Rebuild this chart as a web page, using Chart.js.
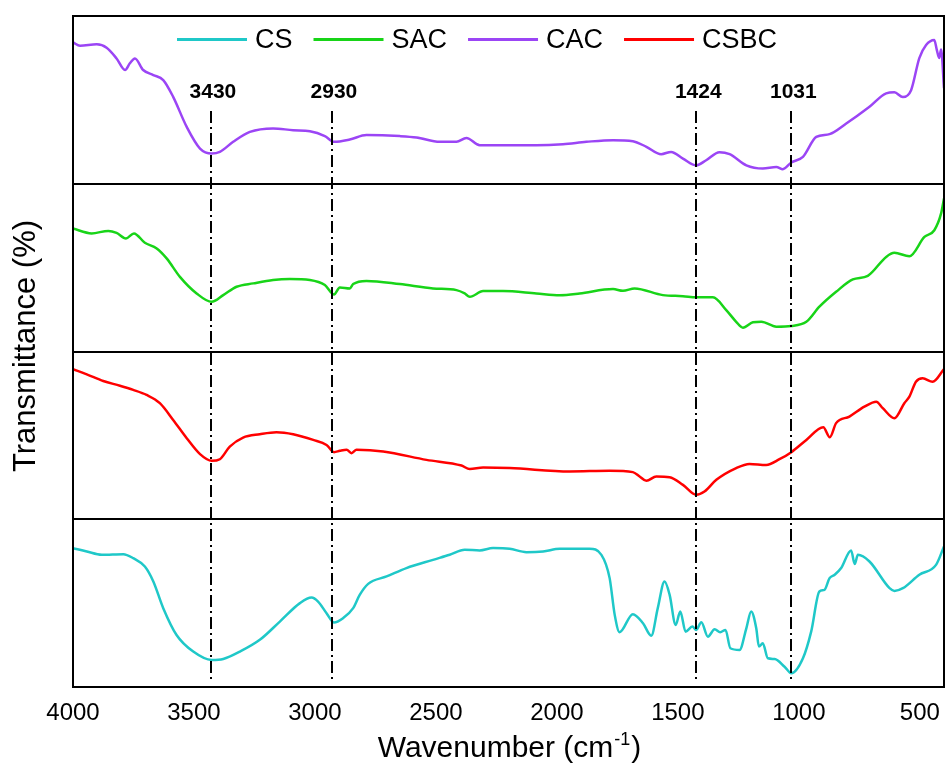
<!DOCTYPE html>
<html><head><meta charset="utf-8">
<script src="https://cdn.jsdelivr.net/npm/chart.js@4.4.0/dist/chart.umd.min.js"></script>
<style>html,body{margin:0;padding:0;background:#fff;}canvas{display:block;}</style>
</head><body>
<canvas id="c" width="945" height="764"></canvas>
<script>
// ---------- data ----------
const seriesNames = ['CS', 'SAC', 'CAC', 'CSBC'];
const xTicks = [4000, 3500, 3000, 2500, 2000, 1500, 1000, 500];
const peakWn = [3430, 2930, 1424, 1031];
const peakLabels = ['3430', '2930', '1424', '1031'];

const csWn = [4000,3943,3881,3792,3751,3703,3668,3627,3572,3503,3427,3379,3310,3228,3145,3062,3014,2987,2952,2921,2884,2842,2815,2780,2704,2622,2512,2443,2381,2319,2264,2195,2126,2057,1988,1865,1816,1782,1761,1741,1686,1644,1610,1583,1555,1534,1509,1490,1468,1440,1424,1403,1376,1348,1325,1303,1283,1245,1217,1197,1176,1165,1149,1128,1100,1059,1031,983,949,915,894,873,852,825,784,769,756,708,625,605,570,502,433,400];
const csT = [82.8,80.8,78.8,79.2,76.8,71.8,62.9,47.0,31.0,21.1,16.1,16.7,21.1,28.1,39.0,50.0,53.3,50.9,44.0,38.4,41.0,47.0,54.9,61.5,65.9,70.9,75.8,78.8,81.8,81.4,82.8,82.4,80.4,80.8,82.4,82.4,78.8,64.9,43.0,32.7,43.4,38.0,30.6,47.0,62.9,54.9,37.0,45.0,33.0,36.0,34.0,38.6,30.0,34.4,32.7,34.0,23.1,22.1,35.0,45.0,35.0,24.1,26.1,17.1,16.7,12.1,8.2,17.1,33.0,56.9,57.9,64.9,66.9,70.9,81.4,73.3,78.8,74.8,58.9,57.3,58.9,66.9,72.8,83.8];

const sacWn = [4000,3923,3854,3820,3781,3748,3703,3654,3613,3558,3489,3427,3379,3324,3255,3173,3104,3021,2959,2921,2897,2856,2842,2787,2649,2512,2415,2381,2360,2305,2223,2085,1988,1906,1768,1727,1679,1562,1479,1424,1355,1300,1259,1231,1190,1155,1093,1031,969,915,846,777,715,639,605,543,481,440,412,400];
const sacT = [73.3,70.4,71.9,70.7,67.4,70.4,64.8,61.4,55.5,44.5,34.6,29.6,33.6,38.6,40.6,42.6,43.2,42.6,39.6,34.0,38.2,37.6,40.2,42.1,40.2,37.6,36.6,34.6,32.6,36.0,36.0,34.6,33.6,34.6,37.2,36.2,37.6,33.6,33.0,32.3,32.3,24.7,17.7,14.2,17.4,17.7,14.8,15.2,17.7,26.7,35.6,43.0,45.1,56.4,58.8,56.8,68.3,72.3,82.3,91.2];

const cacWn = [4000,3971,3902,3861,3820,3785,3765,3744,3710,3668,3627,3586,3530,3475,3427,3393,3338,3269,3173,3090,3021,2959,2921,2856,2787,2649,2580,2484,2415,2374,2319,2223,2085,1975,1878,1768,1686,1630,1569,1528,1479,1424,1383,1328,1286,1217,1149,1093,1066,1031,983,928,873,804,708,639,605,570,536,502,474,440,430,420,412,400];
const cacT = [84.3,82.3,83.1,81.1,74.7,67.8,71.8,74.7,67.8,64.8,61.8,51.8,33.9,21.0,18.0,19.0,25.0,30.9,33.0,31.9,31.3,28.4,25.0,26.4,29.0,28.4,27.6,25.0,25.0,27.3,23.0,23.0,23.0,23.6,25.0,26.0,25.4,22.0,17.6,19.0,15.0,11.0,14.0,18.8,17.6,11.0,9.1,10.0,8.7,12.7,16.0,27.9,29.6,35.9,45.9,53.9,54.5,51.7,55.8,74.9,82.7,85.7,80.0,75.0,80.0,57.0];

const csbcWn = [4000,3943,3875,3806,3751,3696,3641,3586,3530,3475,3427,3393,3352,3297,3228,3159,3090,3007,2952,2921,2897,2869,2849,2828,2718,2539,2394,2360,2305,2195,1947,1782,1686,1658,1630,1589,1534,1479,1424,1390,1341,1259,1204,1135,1080,1031,969,899,872,846,791,729,680,653,605,564,543,516,488,447,400];
const csbcT = [89.4,86.4,82.4,79.6,77.1,74.1,69.2,59.2,48.3,38.8,34.8,35.8,43.3,48.7,50.7,51.9,50.7,47.3,44.3,40.0,40.8,41.4,39.4,41.4,40.4,35.4,32.0,29.9,30.8,30.5,28.5,28.9,28.1,25.5,22.9,25.5,25.1,20.5,14.6,16.5,23.5,30.5,33.0,32.4,35.8,40.0,47.3,54.9,48.9,57.3,61.2,67.1,70.1,66.2,60.2,69.2,73.1,82.0,84.0,82.0,89.5];

const seriesColors = ['#1fc8c8', '#18d418', '#9b45f5', '#ff0000'];

// ---------- chart ----------
const FONT = "'Liberation Sans', Arial, sans-serif";
const pts = (wn, t) => wn.map((w, i) => ({x: w, y: t[i]}));
const seriesData = [pts(csWn, csT), pts(sacWn, sacT), pts(cacWn, cacT), pts(csbcWn, csbcT)];
const axisIds = ['yCS', 'ySAC', 'yCAC', 'yCSBC'];

function panelAxis() {
  return {
    type: 'linear', position: 'left', stack: 'ftir', stackWeight: 1, min: 0, max: 100,
    ticks: {display: false},
    grid: {display: true, drawTicks: false, color: '#000', lineWidth: 2},
    border: {display: true, color: '#000', width: 2},
    afterBuildTicks: s => { s.ticks = [{value: 0}, {value: 100}]; },
    afterFit: s => { s.width = 73; }
  };
}

const decor = {
  id: 'decor',
  afterDatasetsDraw(chart) {
    const {ctx, chartArea: a, scales} = chart;
    const xs = scales.x;
    ctx.save();
    ctx.strokeStyle = '#000';
    ctx.lineWidth = 2;
    ctx.strokeRect(a.left, a.top, a.right - a.left, a.bottom - a.top);
    ctx.setLineDash([12, 4, 2, 4]);
    peakWn.forEach(w => {
      const px = Math.round(xs.getPixelForValue(w));
      ctx.beginPath();
      ctx.moveTo(px, a.top + 95);
      ctx.lineTo(px, a.bottom - 6);
      ctx.stroke();
    });
    ctx.setLineDash([]);
    ctx.fillStyle = '#000';
    ctx.font = 'bold 21px ' + FONT;
    ctx.textAlign = 'center';
    ctx.textBaseline = 'middle';
    peakWn.forEach((w, i) => ctx.fillText(peakLabels[i], xs.getPixelForValue(w) + 2, a.top + 76));

    // legend (horizontal, inside the plot area)
    ctx.font = '27px ' + FONT;
    ctx.textAlign = 'left';
    let lx = 177;
    const ly = 39.5;
    chart.data.datasets.forEach(ds => {
      ctx.strokeStyle = ds.borderColor;
      ctx.lineWidth = 3;
      ctx.beginPath();
      ctx.moveTo(lx, ly);
      ctx.lineTo(lx + 70, ly);
      ctx.stroke();
      ctx.fillStyle = '#000';
      ctx.fillText(ds.label, lx + 78, ly + 1);
      lx += 78 + ctx.measureText(ds.label).width + 21;
    });
    ctx.restore();
  },
  afterDraw(chart) {
    const {ctx, chartArea: a} = chart;
    ctx.save();
    ctx.fillStyle = '#000';
    // y title
    ctx.font = '31px ' + FONT;
    ctx.translate(26, 346);
    ctx.rotate(-Math.PI / 2);
    ctx.textAlign = 'center';
    ctx.textBaseline = 'middle';
    ctx.fillText('Transmittance (%)', 0, 0);
    ctx.setTransform(1, 0, 0, 1, 0, 0);
    // x title with superscript
    const main = 'Wavenumber (cm', sup = '-1', close = ')';
    ctx.textAlign = 'left';
    ctx.textBaseline = 'alphabetic';
    ctx.font = '30px ' + FONT;
    const w1 = ctx.measureText(main).width, w3 = ctx.measureText(close).width;
    ctx.font = '18px ' + FONT;
    const w2 = ctx.measureText(sup).width;
    const cx = (a.left + a.right) / 2;
    let x0 = cx - (w1 + w2 + w3) / 2;
    ctx.font = '30px ' + FONT;
    ctx.fillText(main, x0, 757);
    ctx.font = '18px ' + FONT;
    ctx.fillText(sup, x0 + w1 + 1, 745);
    ctx.font = '30px ' + FONT;
    ctx.fillText(close, x0 + w1 + w2 + 2, 757);
    ctx.restore();
  }
};

const scales = {
  x: {
    type: 'linear', position: 'bottom', min: 400, max: 4000, reverse: true,
    afterBuildTicks: s => { s.ticks = xTicks.map(v => ({value: v})); },
    ticks: {color: '#000', font: {size: 24, family: FONT}, padding: 12, maxRotation: 0, autoSkip: false,
            callback: v => String(v)},
    grid: {display: false, drawTicks: false},
    border: {display: true, color: '#000', width: 2},
    afterFit: s => { s.height = 77; s.paddingLeft = 0; s.paddingRight = 0; }
  },
  yCS: panelAxis(),
  yCSBC: panelAxis(),
  ySAC: panelAxis(),
  yCAC: panelAxis()
};

new Chart(document.getElementById('c'), {
  type: 'line',
  data: {
    datasets: seriesNames.map((n, i) => ({
      label: n,
      data: seriesData[i],
      yAxisID: axisIds[i],
      borderColor: seriesColors[i],
      backgroundColor: seriesColors[i],
      borderWidth: 2.5,
      pointRadius: 0,
      cubicInterpolationMode: 'monotone',
      fill: false
    }))
  },
  options: {
    responsive: false,
    devicePixelRatio: 1,
    animation: false,
    layout: {padding: {top: 16, right: 1, left: 0, bottom: 0}},
    scales,
    plugins: {
      tooltip: {enabled: false},
      legend: {display: false}
    }
  },
  plugins: [decor]
});
</script>
</body></html>
